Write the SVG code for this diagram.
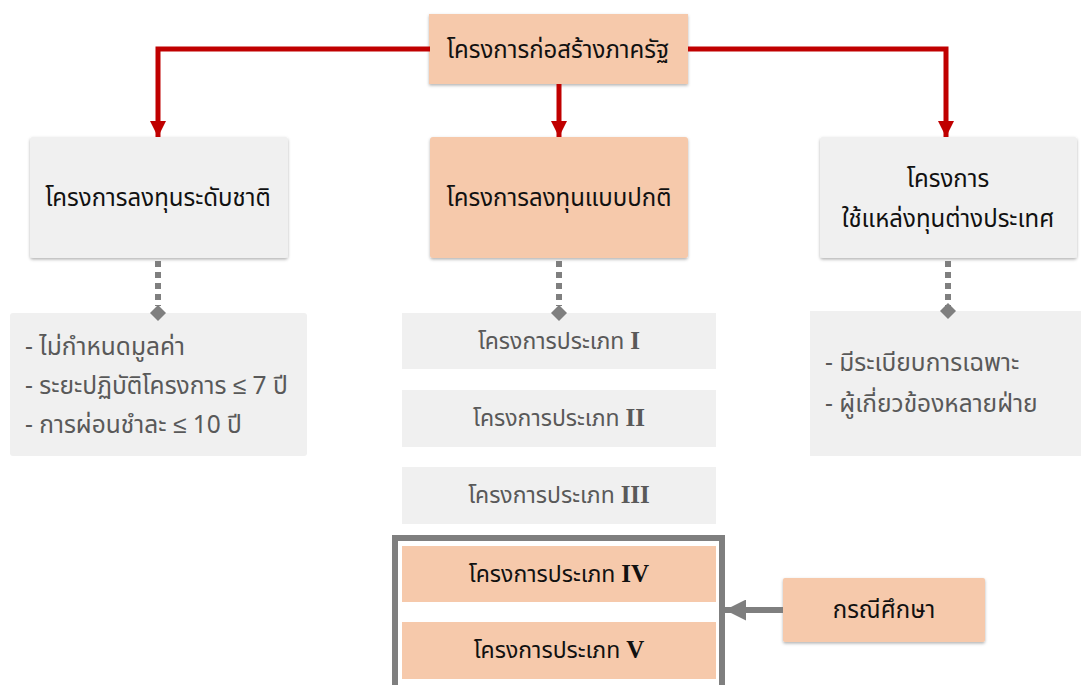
<svg xmlns="http://www.w3.org/2000/svg" width="1081" height="685" viewBox="0 0 1081 685">
  <style>
    .th { font-family: "Noto Sans Thai", "Noto Sans", "Liberation Sans", sans-serif; }
    .title { font-size: 24px; fill: #111; text-anchor: middle; }
    .item { font-size: 24.5px; fill: #595959; }
    .cat { font-size: 23px; fill: #595959; text-anchor: middle; }
    .cat.dark { fill: #111; }
    .num { font-family: "Liberation Serif", serif; font-weight: bold; font-size: 25px; }
    .peach { fill: #f6c9ab; }
    .grey { fill: #f0f0f0; }
    .red { fill: none; stroke: #c00000; stroke-width: 5; }
    .dots { fill: none; stroke: #7f7f7f; stroke-width: 6; stroke-dasharray: 6 5; }
  </style>
  <defs>
    <filter id="shadow" x="-10%" y="-10%" width="120%" height="130%">
      <feDropShadow dx="0" dy="1.5" stdDeviation="1.5" flood-color="#000" flood-opacity="0.3"/>
    </filter>
    <marker id="redHead" viewBox="0 0 10 10" refX="10" refY="5" markerWidth="3.2" markerHeight="3.2" markerUnits="strokeWidth" orient="auto">
      <path d="M0,0 L10,5 L0,10 Z" fill="#c00000"/>
    </marker>
    <marker id="greyHead" viewBox="0 0 10 10" refX="10" refY="5" markerWidth="3.5" markerHeight="3.5" markerUnits="strokeWidth" orient="auto">
      <path d="M0,0 L10,5 L0,10 Z" fill="#7f7f7f"/>
    </marker>
  </defs>

  <!-- top node -->
  <g id="node-top">
    <rect x="429" y="14" width="259" height="70" class="peach" filter="url(#shadow)"/>
    <text x="558" y="58" class="th title" font-size="26">โครงการก่อสร้างภาครัฐ</text>
  </g>

  <!-- second level -->
  <g id="node-national">
    <rect x="30" y="137" width="258" height="121" rx="3" class="grey" filter="url(#shadow)"/>
    <text x="158" y="206" class="th title">โครงการลงทุนระดับชาติ</text>
  </g>
  <g id="node-normal">
    <rect x="430" y="137" width="258" height="121" rx="3" class="peach" filter="url(#shadow)"/>
    <text x="559" y="206" class="th title">โครงการลงทุนแบบปกติ</text>
  </g>
  <g id="node-foreign">
    <rect x="820" y="137" width="257" height="121" rx="3" class="grey" filter="url(#shadow)"/>
    <text x="948" y="187" class="th title">โครงการ</text>
    <text x="948" y="227" class="th title">ใช้แหล่งทุนต่างประเทศ</text>
  </g>

  <!-- details -->
  <g id="detail-national">
    <rect x="10" y="313" width="297" height="143" rx="3" class="grey"/>
    <text x="25" y="355" class="th item">- ไม่กำหนดมูลค่า</text>
    <text x="25" y="394" class="th item">- ระยะปฏิบัติโครงการ ≤ 7 ปี</text>
    <text x="25" y="433" class="th item">- การผ่อนชำละ ≤ 10 ปี</text>
  </g>
  <g id="detail-foreign">
    <rect x="810" y="311" width="271" height="145" class="grey"/>
    <text x="825" y="371" class="th item">- มีระเบียบการเฉพาะ</text>
    <text x="825" y="412" class="th item">- ผู้เกี่ยวข้องหลายฝ่าย</text>
  </g>

  <g id="type-1">
    <rect x="402" y="313" width="314" height="56" class="grey"/>
    <text x="559" y="349" class="th cat">โครงการประเภท <tspan class="num">I</tspan></text>
  </g>
  <g id="type-2">
    <rect x="402" y="390" width="314" height="57" class="grey"/>
    <text x="559" y="426" class="th cat">โครงการประเภท <tspan class="num">II</tspan></text>
  </g>
  <g id="type-3">
    <rect x="402" y="467" width="314" height="57" class="grey"/>
    <text x="559" y="503" class="th cat">โครงการประเภท <tspan class="num">III</tspan></text>
  </g>

  <!-- highlighted group -->
  <g id="case-group">
    <rect x="395" y="538" width="327" height="160" fill="none" stroke="#7f7f7f" stroke-width="6"/>
  </g>
  <g id="type-4">
    <rect x="402" y="546" width="314" height="56" class="peach"/>
    <text x="559" y="582" class="th cat dark">โครงการประเภท <tspan class="num">IV</tspan></text>
  </g>
  <g id="type-5">
    <rect x="402" y="622" width="314" height="57" class="peach"/>
    <text x="559" y="658" class="th cat dark">โครงการประเภท <tspan class="num">V</tspan></text>
  </g>

  <g id="node-case">
    <rect x="783" y="578" width="202" height="64" rx="2" class="peach" filter="url(#shadow)"/>
    <text x="884" y="618" class="th title" font-size="22">กรณีศึกษา</text>
  </g>

  <!-- connectors -->
  <g id="connectors">
    <path class="red" d="M430,49 H158 V137" marker-end="url(#redHead)"/>
    <path class="red" d="M688,49 H946 V137" marker-end="url(#redHead)"/>
    <path class="red" d="M559,84 V137" marker-end="url(#redHead)"/>
    <path class="dots" d="M158,261 V306"/>
    <path class="dots" d="M559,261 V306"/>
    <path class="dots" d="M948,261 V306"/>
    <path d="M150,313 L158,305 L166,313 L158,321 Z" fill="#7f7f7f"/>
    <path d="M551,313 L559,305 L567,313 L559,321 Z" fill="#7f7f7f"/>
    <path d="M940,311 L948,303 L956,311 L948,319 Z" fill="#7f7f7f"/>
    <path d="M783,610 H725" stroke="#7f7f7f" stroke-width="6" fill="none" marker-end="url(#greyHead)"/>
  </g>
</svg>
